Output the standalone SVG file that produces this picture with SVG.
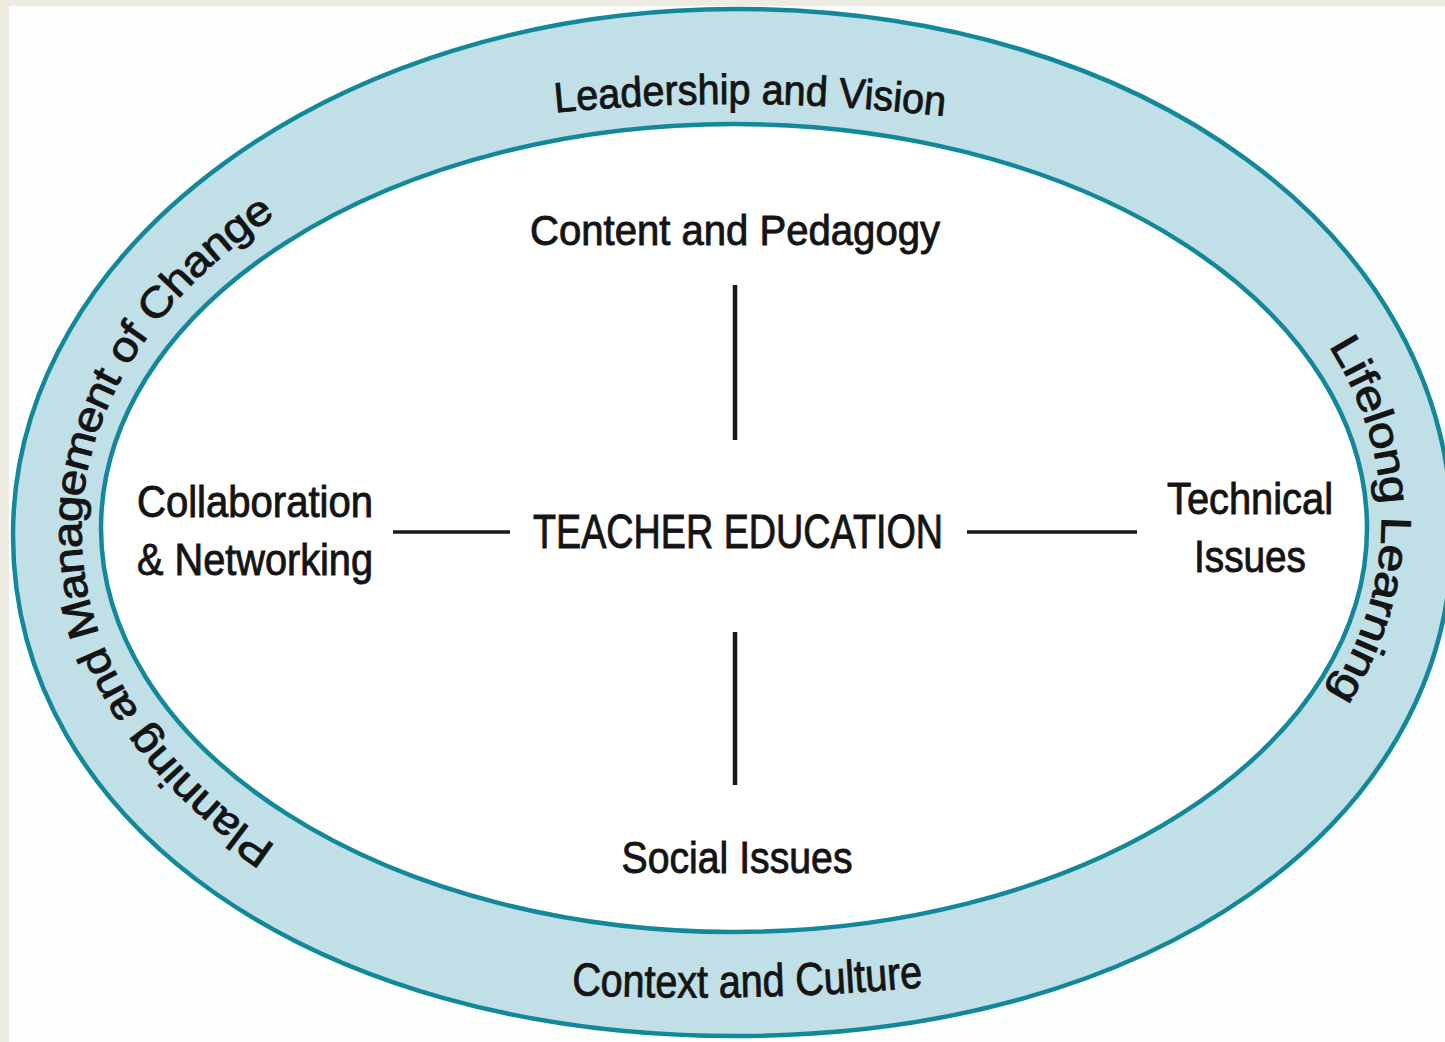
<svg xmlns="http://www.w3.org/2000/svg" width="1445" height="1042" viewBox="0 0 1445 1042">
<style>
.lbl{font-family:"Liberation Sans",Arial,Helvetica,sans-serif;fill:#141414;stroke:#141414;stroke-width:0.9;}
.ring{fill:#c0dfe6;stroke:#13889a;stroke-width:4.5;}
.hole{fill:#ffffff;stroke:#13889a;stroke-width:4.5;}
.conn{stroke:#1a1a1a;fill:none;}
</style>
<defs>
<path id="p-top" d="M 540,114 Q 748,92 960,118"/>
<path id="p-bottom" d="M 560,994 Q 745,1004 935,986"/>
<path id="p-left" d="M 506.5,961.5 A 668 458 0 0 1 506.5,100.5"/>
<path id="p-right" d="M 961.1,92.3 A 661 455 0 0 1 961.1,947.7"/>
</defs>
<rect x="0" y="0" width="1445" height="1042" fill="#eeebe2"/>
<rect x="9" y="6" width="1436" height="1036" fill="#fdfefe"/>
<g id="ring-shape">
<path class="ring" d="M 13,535 C 13,244.5 336.2,9 735,9 C 1143.7,9 1452,235.2 1452,535 C 1452,825.6 1150.9,1036 735,1036 C 316.2,1036 13,825.6 13,535 Z"/>
<ellipse class="hole" cx="734" cy="528" rx="633" ry="404"/>
</g>
<g id="connectors">
<line class="conn" x1="735" y1="285" x2="735" y2="440" stroke-width="4.5"/>
<line class="conn" x1="735" y1="632" x2="735" y2="785" stroke-width="4.5"/>
<line class="conn" x1="393" y1="532" x2="510" y2="532" stroke-width="3.5"/>
<line class="conn" x1="967" y1="532" x2="1137" y2="532" stroke-width="3.5"/>
</g>
<g id="ring-leadership">
<text class="lbl" font-size="42"><textPath href="#p-top" startOffset="50%" text-anchor="middle" textLength="390" lengthAdjust="spacingAndGlyphs">Leadership and Vision</textPath></text>
</g>
<g id="ring-context">
<text class="lbl" font-size="46"><textPath href="#p-bottom" startOffset="50%" text-anchor="middle" textLength="352" lengthAdjust="spacingAndGlyphs">Context and Culture</textPath></text>
</g>
<g id="ring-planning">
<text class="lbl" font-size="42" dominant-baseline="central"><textPath href="#p-left" startOffset="50%" text-anchor="middle" textLength="800" lengthAdjust="spacingAndGlyphs">Planning and Management of Change</textPath></text>
</g>
<g id="ring-lifelong">
<text class="lbl" font-size="42" dominant-baseline="central"><textPath href="#p-right" startOffset="50%" text-anchor="middle" textLength="385" lengthAdjust="spacingAndGlyphs">Lifelong Learning</textPath></text>
</g>
<g id="node-content">
<text class="lbl" x="735" y="245" font-size="42" text-anchor="middle" textLength="410" lengthAdjust="spacingAndGlyphs">Content and Pedagogy</text>
</g>
<g id="node-teacher">
<text class="lbl" x="738" y="548" font-size="48" text-anchor="middle" textLength="410" lengthAdjust="spacingAndGlyphs">TEACHER EDUCATION</text>
</g>
<g id="node-collaboration">
<text class="lbl" x="137" y="517" font-size="44" textLength="236" lengthAdjust="spacingAndGlyphs">Collaboration</text>
<text class="lbl" x="137" y="575" font-size="44" textLength="236" lengthAdjust="spacingAndGlyphs">&amp; Networking</text>
</g>
<g id="node-technical">
<text class="lbl" x="1250" y="514" font-size="44" text-anchor="middle" textLength="166" lengthAdjust="spacingAndGlyphs">Technical</text>
<text class="lbl" x="1250" y="572" font-size="44" text-anchor="middle" textLength="112" lengthAdjust="spacingAndGlyphs">Issues</text>
</g>
<g id="node-social">
<text class="lbl" x="737" y="873" font-size="45" text-anchor="middle" textLength="231" lengthAdjust="spacingAndGlyphs">Social Issues</text>
</g>
</svg>
